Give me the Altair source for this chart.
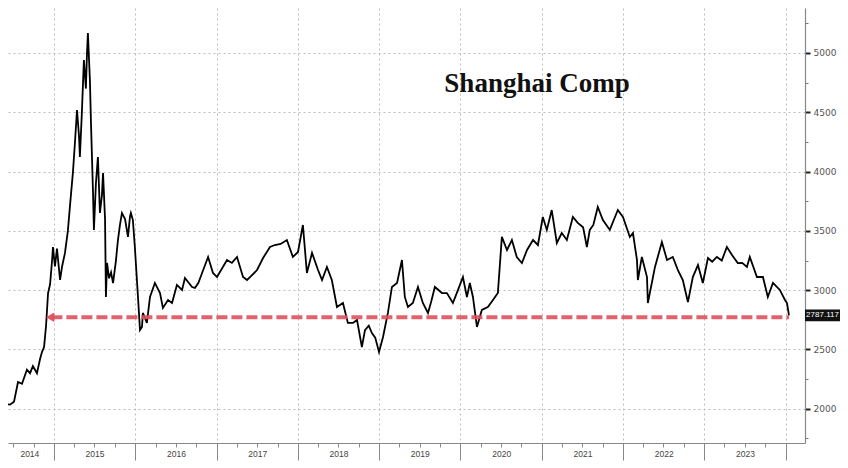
import altair as alt
import pandas as pd

# ---------------- data ----------------
dates = [
    "2014-05-03", "2014-05-25", "2014-06-17", "2014-07-05", "2014-07-23", "2014-08-10",
    "2014-09-01", "2014-09-15", "2014-09-28", "2014-10-16", "2014-10-30", "2014-11-08",
    "2014-11-17", "2014-11-26", "2014-12-05", "2014-12-14", "2014-12-23", "2014-12-27",
    "2015-01-05", "2015-01-14", "2015-01-28", "2015-02-06", "2015-02-19", "2015-03-04",
    "2015-03-13", "2015-03-27", "2015-04-05", "2015-04-14", "2015-04-23", "2015-04-27",
    "2015-05-06", "2015-05-15", "2015-05-24", "2015-05-29", "2015-06-02", "2015-06-11",
    "2015-06-16", "2015-06-25", "2015-06-29", "2015-07-08", "2015-07-17", "2015-07-26",
    "2015-08-04", "2015-08-09", "2015-08-18", "2015-08-22", "2015-08-27", "2015-09-05",
    "2015-09-14", "2015-09-23", "2015-10-06", "2015-10-15", "2015-10-24", "2015-11-02",
    "2015-11-16", "2015-11-29", "2015-12-08", "2015-12-12", "2015-12-21", "2015-12-30",
    "2016-01-13", "2016-01-22", "2016-01-31", "2016-02-04", "2016-02-22", "2016-03-07",
    "2016-03-29", "2016-04-21", "2016-05-04", "2016-05-27", "2016-06-14", "2016-07-06",
    "2016-07-29", "2016-08-11", "2016-09-12", "2016-09-25", "2016-10-10", "2016-10-27",
    "2016-11-23", "2016-12-15", "2017-01-02", "2017-02-16", "2017-03-10", "2017-04-02",
    "2017-04-29", "2017-05-17", "2017-06-05", "2017-07-01", "2017-07-28", "2017-08-28",
    "2017-09-19", "2017-10-15", "2017-11-12", "2017-12-09", "2018-01-01", "2018-01-23",
    "2018-02-10", "2018-03-05", "2018-04-01", "2018-04-19", "2018-05-11", "2018-06-02",
    "2018-06-25", "2018-07-22", "2018-08-13", "2018-09-05", "2018-09-23", "2018-10-15",
    "2018-10-29", "2018-11-15", "2018-11-29", "2018-12-14", "2018-12-31", "2019-01-18",
    "2019-02-09", "2019-02-27", "2019-03-22", "2019-04-13", "2019-04-26", "2019-05-10",
    "2019-06-01", "2019-06-24", "2019-07-16", "2019-08-08", "2019-08-22", "2019-09-08",
    "2019-10-10", "2019-11-01", "2019-11-28", "2019-12-21", "2020-01-12", "2020-01-30",
    "2020-02-12", "2020-02-26", "2020-03-15", "2020-04-06", "2020-05-03", "2020-05-26",
    "2020-06-17", "2020-07-05", "2020-07-28", "2020-08-19", "2020-09-10", "2020-10-03",
    "2020-10-26", "2020-11-22", "2020-12-14", "2021-01-05", "2021-01-23", "2021-02-14",
    "2021-03-09", "2021-03-31", "2021-04-23", "2021-05-20", "2021-06-11", "2021-07-05",
    "2021-07-22", "2021-08-04", "2021-08-20", "2021-09-09", "2021-10-02", "2021-11-02",
    "2021-12-08", "2021-12-31", "2022-01-31", "2022-02-14", "2022-03-04", "2022-03-08",
    "2022-03-26", "2022-04-18", "2022-04-22", "2022-05-24", "2022-06-24", "2022-07-17",
    "2022-08-12", "2022-09-04", "2022-09-26", "2022-10-19", "2022-11-10", "2022-12-03",
    "2022-12-25", "2023-01-17", "2023-02-05", "2023-02-26", "2023-03-20", "2023-04-12",
    "2023-05-05", "2023-05-31", "2023-06-20", "2023-07-11", "2023-07-24", "2023-08-25",
    "2023-09-21", "2023-10-13", "2023-11-05", "2023-12-06", "2023-12-29", "2024-01-07",
    "2024-01-16",
]
values = [
    2030, 2040, 2035, 2060, 2226, 2210,
    2330, 2300, 2360, 2300, 2420, 2480,
    2520, 2700, 2976, 3050, 3250, 3364,
    3200, 3350, 3086, 3200, 3314, 3500,
    3700, 4000, 4250, 4519, 4300, 4123,
    4500, 4941, 4700, 5000, 5168, 4772,
    4400, 3820, 3508, 3900, 4123, 3651,
    3800, 3988, 3600, 2943, 3230, 3100,
    3150, 3060, 3250, 3423, 3550, 3650,
    3600, 3449, 3620, 3651, 3592, 3364,
    2943, 2664, 2690, 2808, 2724, 2943,
    3061, 2976, 2850, 2917, 2892, 3044,
    3002, 3103, 3027, 3019, 3060, 3145,
    3280, 3145, 3111, 3255, 3230, 3280,
    3111, 3086, 3120, 3170, 3271, 3364,
    3381, 3390, 3423, 3280, 3322, 3550,
    3145, 3314, 3170, 3086, 3196, 3086,
    2858, 2892, 2724, 2724, 2749, 2521,
    2664, 2700, 2639, 2600, 2479, 2605,
    2808, 3027, 3061, 3255, 2943, 2858,
    2892, 3027, 2892, 2808, 2900, 3027,
    2976, 2976, 2892, 3002, 3111, 2943,
    3061, 2943, 2690, 2833, 2858, 2917,
    2976, 3449, 3339, 3423, 3280, 3229,
    3339, 3423, 3381, 3617, 3508, 3676,
    3398, 3482, 3423, 3617, 3567, 3530,
    3364, 3508, 3550, 3702, 3592, 3508,
    3676, 3617, 3449, 3482, 3255, 3086,
    3280, 3111, 2892, 3196, 3406, 3255,
    3280, 3170, 3086, 2900, 3111, 3212,
    3061, 3271, 3240, 3280, 3250, 3364,
    3297, 3229, 3230, 3196, 3280, 3111,
    3111, 2943, 3061, 3002, 2917, 2892,
    2787.117,
]

title_text = "Shanghai Comp"
last_label = "2787.117"
last_value = 2787.117
support_level = 2772
arrow_date = "2014-12-14"
rule_start = "2014-12-20"

y_major = [2000, 2500, 3000, 3500, 4000, 4500, 5000]
y_minor = [1750, 2250, 2750, 3250, 3750, 4250, 4750, 5250]
year_labels = [2014, 2015, 2016, 2017, 2018, 2019, 2020, 2021, 2022, 2023]
year_label_months = [9] + [7] * 9
year_label_days = [12] + [2] * 9

# ---------------- scales & axes ----------------
def dt(y, m, d):
    return alt.DateTime(year=y, month=m, date=d, utc=True)

x_scale = alt.Scale(domain=[dt(2014, 6, 8), dt(2024, 3, 28)], nice=False)
y_scale = alt.Scale(domain=[1711.5, 5379.4], nice=False, zero=False)

quarter_vals = [dt(y, m, 1) for y in range(2014, 2025) for m in (1, 4, 7, 10)
                if (2014, 7) <= (y, m) <= (2024, 1)]
year_vals = [dt(y, m, d) for y, m, d in zip(year_labels, year_label_months, year_label_days)]

is_jan = "utcmonth(datum.value) === 0"
axis_q = alt.Axis(
    orient="bottom", values=quarter_vals, labels=False, title=None,
    tickSize={"condition": {"test": is_jan, "value": 17}, "value": 4},
    tickColor="#888888", tickWidth=1,
    domainColor="#888888", domainWidth=1.2,
    grid=True, gridColor="#bdbdbd", gridDash=[2, 3], gridWidth=1,
    gridOpacity={"condition": {"test": is_jan, "value": 1}, "value": 0},
)
axis_years = alt.Axis(
    orient="bottom", values=year_vals, ticks=False, domain=False,
    grid=False, title=None,
    labelExpr="utcFormat(datum.value, '%Y')",
    labelFontSize=8.5, labelColor="#444444", labelPadding=6,
    labelFlush=False, labelOverlap=False, labelFont="Liberation Sans",
)
y_axis_major = alt.Axis(
    orient="right", values=y_major, title=None, format="d",
    tickSize=5, tickWidth=2, tickColor="#222222",
    domainColor="#888888", domainWidth=1.2,
    grid=True, gridColor="#bdbdbd", gridDash=[2, 3], gridWidth=1,
    labelFontSize=9, labelColor="#555555", labelPadding=3,
    labelOverlap=False, labelFlush=False, labelFont="DejaVu Sans",
)
y_axis_minor = alt.Axis(
    orient="right", values=y_minor, title=None, labels=False, grid=False,
    domain=False, tickSize=3, tickWidth=1, tickColor="#777777",
)

# ---------------- layers ----------------
df = pd.DataFrame({"date": dates, "value": values})
rule_df = pd.DataFrame({"start": [rule_start], "end": [dates[-1]], "level": [support_level]})
arrow_df = pd.DataFrame({"date": [arrow_date], "level": [support_level]})
label_df = pd.DataFrame({"level": [last_value], "label": [last_label]})
title_df = pd.DataFrame({"t": [title_text]})

red = "#e0505c"

line = alt.Chart(df).mark_line(color="black", strokeWidth=1.8, clip=True).encode(
    x=alt.X("date:T", scale=x_scale, axis=axis_q),
    y=alt.Y("value:Q", scale=y_scale, axis=y_axis_major),
)

rule = alt.Chart(rule_df).mark_rule(
    color=red, strokeWidth=4, strokeDash=[11, 4], opacity=0.9
).encode(
    x=alt.X("start:T", scale=x_scale, axis=axis_years),
    x2="end:T",
    y=alt.Y("level:Q", scale=y_scale, axis=None),
)

arrow = alt.Chart(arrow_df).mark_point(
    shape="triangle-left", filled=True, color=red, size=90, opacity=0.95
).encode(
    x=alt.X("date:T", scale=x_scale, axis=None),
    y=alt.Y("level:Q", scale=y_scale, axis=y_axis_minor),
)

box = alt.Chart(label_df).transform_calculate(
    lo="datum.level - 50", hi="datum.level + 50"
).mark_rect(color="#111111").encode(
    x=alt.value(797), x2=alt.value(832),
    y=alt.Y("lo:Q", scale=y_scale, axis=None), y2="hi:Q",
)

box_text = alt.Chart(label_df).mark_text(
    color="white", fontSize=8, font="Liberation Sans", align="center", baseline="middle"
).encode(
    x=alt.value(814.5),
    y=alt.Y("level:Q", scale=y_scale, axis=None),
    text="label:N",
)

title = alt.Chart(title_df).mark_text(
    font="Liberation Serif", fontSize=27, fontWeight="bold", color="#111111",
    align="center", baseline="alphabetic"
).encode(x=alt.value(529), y=alt.value(84), text="t:N")

chart = alt.layer(
    line, rule, arrow, box, box_text, title
).resolve_axis(
    x="independent", y="independent"
).properties(
    width=797, height=435, padding=0, background="white"
).configure_view(stroke=None)

chart.save("out.html", embed_options={"renderer": "svg", "actions": False})
